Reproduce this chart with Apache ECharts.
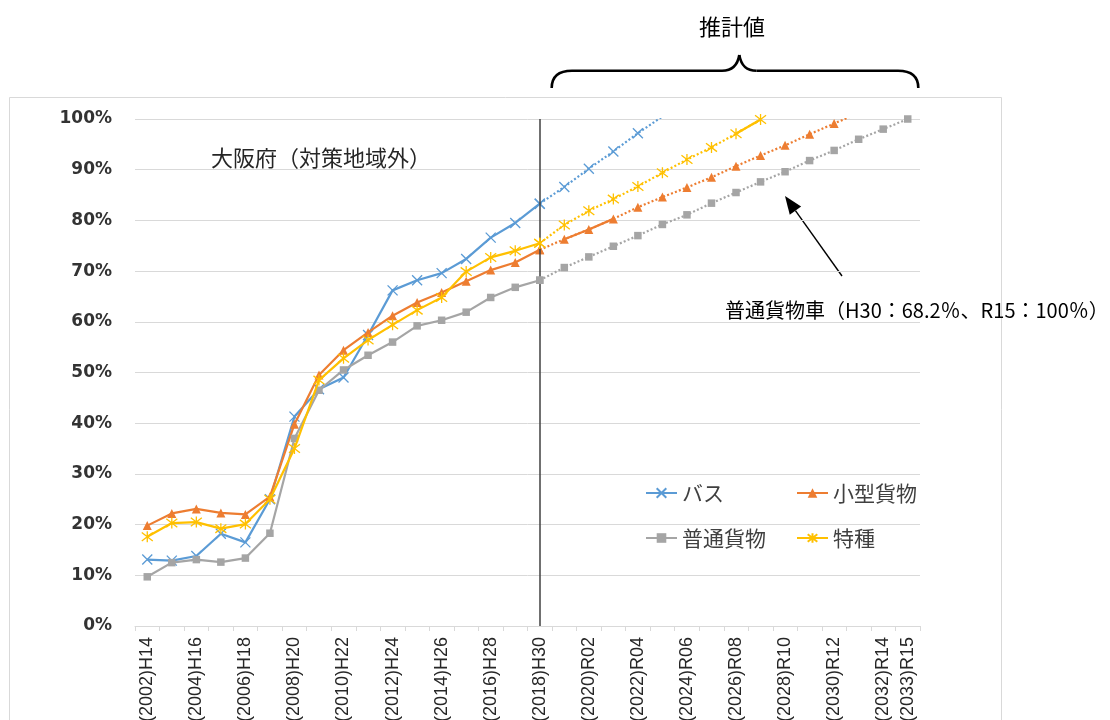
<!DOCTYPE html>
<html>
<head>
<meta charset="utf-8">
<script src="https://cdn.jsdelivr.net/npm/echarts@6/dist/echarts.min.js"></script>
<style>
  html, body { margin: 0; padding: 0; background: #fff; }
  #chart { width: 1110px; height: 720px; }
</style>
</head>
<body>
<div id="chart"></div>
<script>
// Fiscal years (Western year + Japanese era year)
const categories = [
  '(2002)H14', '(2003)H15', '(2004)H16', '(2005)H17', '(2006)H18', '(2007)H19',
  '(2008)H20', '(2009)H21', '(2010)H22', '(2011)H23', '(2012)H24', '(2013)H25',
  '(2014)H26', '(2015)H27', '(2016)H28', '(2017)H29', '(2018)H30', '(2019)R01',
  '(2020)R02', '(2021)R03', '(2022)R04', '(2023)R05', '(2024)R06', '(2025)R07',
  '(2026)R08', '(2027)R09', '(2028)R10', '(2029)R11', '(2030)R12', '(2031)R13',
  '(2032)R14', '(2033)R15'
];
const yTicks = [0, 10, 20, 30, 40, 50, 60, 70, 80, 90, 100];

// Observed compliance rate (%), 2002..2018
const busActual     = [13.1, 12.9, 13.8, 18.2, 16.5, 25.0, 41.3, 46.7, 49.0, 57.4, 66.2, 68.2, 69.6, 72.4, 76.6, 79.5, 83.3];
const smallActual   = [19.8, 22.2, 23.1, 22.3, 22.0, 25.5, 39.8, 49.5, 54.4, 57.9, 61.2, 63.8, 65.8, 68.0, 70.2, 71.7, 74.2];
const normalActual  = [9.7, 12.5, 13.1, 12.6, 13.4, 18.3, 37.0, 46.5, 50.5, 53.4, 56.0, 59.2, 60.3, 61.9, 64.8, 66.8, 68.2];
const specialActual = [17.6, 20.3, 20.5, 19.2, 20.1, 25.0, 35.0, 48.5, 52.8, 56.4, 59.4, 62.3, 64.8, 69.9, 72.7, 74.0, 75.5];

// Estimated rate (%), starting at 2018
const forecastStart = 16;
const busForecast     = [83.3, 86.6, 90.2, 93.6, 97.2, 100.5];
const smallForecast   = [74.2, 76.3, 78.2, 80.3, 82.6, 84.6, 86.5, 88.5, 90.7, 92.8, 94.8, 97.0, 99.1, 101.2];
const normalForecast  = [68.2, 70.7, 72.8, 74.9, 77.0, 79.2, 81.1, 83.4, 85.5, 87.6, 89.6, 91.8, 93.8, 96.0, 98.0, 100.0];
const specialForecast = [75.5, 79.1, 81.9, 84.2, 86.7, 89.4, 92.0, 94.4, 97.1, 99.9];

// Forecast stretches drawn with a solid stroke (first/last forecast index)
const smallSolidSpan   = [1, 3];
const specialSolidSpan = [8, 9];

const names  = ['バス', '小型貨物', '普通貨物', '特種'];
const colors = ['#5B9BD5', '#ED7D31', '#A5A5A5', '#FFC000'];

const SYM_X    = 'path://M0,0L10,10M0,10L10,0';
const SYM_STAR = 'path://M0,0L10,10M0,10L10,0M5,-1.5L5,11.5';

const markers = [
  { symbol: SYM_X, symbolSize: 10, itemStyle: { color: colors[0], borderColor: colors[0], borderWidth: 1.3 } },
  { symbol: 'triangle', symbolSize: 9, itemStyle: { color: colors[1], borderWidth: 0 } },
  { symbol: 'rect', symbolSize: 7.5, itemStyle: { color: colors[2], borderWidth: 0 } },
  { symbol: SYM_STAR, symbolSize: 11, itemStyle: { color: colors[3], borderColor: colors[3], borderWidth: 1.3 } }
];

const actuals   = [busActual, smallActual, normalActual, specialActual];
const forecasts = [busForecast, smallForecast, normalForecast, specialForecast];

function forecastPairs(arr, from, to) {
  const out = [];
  for (let k = from; k <= to; k++) out.push([forecastStart + k, arr[k]]);
  return out;
}

const series = [];
names.forEach((name, i) => {
  series.push(Object.assign({
    name, type: 'line', data: actuals[i],
    lineStyle: { color: colors[i], width: 2.2 },
    z: 3 + i
  }, markers[i]));
});
names.forEach((name, i) => {
  const s = Object.assign({
    name, type: 'line',
    data: forecastPairs(forecasts[i], 0, forecasts[i].length - 1),
    lineStyle: { color: colors[i], width: 2.2, type: [2, 2.2] },
    clip: true,
    z: 3 + i
  }, markers[i]);
  if (i === 0) {
    s.markLine = {
      silent: true,
      symbol: ['none', 'none'],
      label: { show: false },
      lineStyle: { color: '#404040', width: 1.5, type: 'solid' },
      data: [{ xAxis: categories[forecastStart] }]
    };
  }
  series.push(s);
});
// solid stretches inside the forecast
series.push({
  name: '小型貨物', type: 'line', symbol: 'none', z: 4,
  data: forecastPairs(smallForecast, smallSolidSpan[0], smallSolidSpan[1]),
  lineStyle: { color: colors[1], width: 2.2 }
});
series.push({
  name: '特種', type: 'line', symbol: 'none', z: 6,
  data: forecastPairs(specialForecast, specialSolidSpan[0], specialSolidSpan[1]),
  lineStyle: { color: colors[3], width: 2.2 }
});

// Arrow pointing at the 普通貨物 forecast
const arrowTail = [842, 276];
const arrowTip  = [785, 196];
const dx = arrowTail[0] - arrowTip[0], dy = arrowTail[1] - arrowTip[1];
const len = Math.hypot(dx, dy), ux = dx / len, uy = dy / len;
const headLen = 18, headHalf = 7;
const base = [arrowTip[0] + ux * headLen, arrowTip[1] + uy * headLen];
const headPts = [
  arrowTip,
  [base[0] - uy * headHalf, base[1] + ux * headHalf],
  [base[0] + uy * headHalf, base[1] - ux * headHalf]
];

// Curly brace above the forecast years
const braceStyle = { fill: 'none', stroke: '#000', lineWidth: 2.6 };
const braceParts = [
  { type: 'bezierCurve', shape: { x1: 551.7, y1: 88, cpx1: 551.7, cpy1: 77, cpx2: 558, cpy2: 70.7, x2: 572, y2: 70.7 } },
  { type: 'line', shape: { x1: 572, y1: 70.7, x2: 722, y2: 70.7 } },
  { type: 'bezierCurve', shape: { x1: 722, y1: 70.7, cpx1: 732, cpy1: 70.7, cpx2: 737.5, cpy2: 66, x2: 739.3, y2: 55 } },
  { type: 'bezierCurve', shape: { x1: 739.3, y1: 55, cpx1: 741.2, cpy1: 66, cpx2: 746.5, cpy2: 70.7, x2: 756.5, y2: 70.7 } },
  { type: 'line', shape: { x1: 756.5, y1: 70.7, x2: 898, y2: 70.7 } },
  { type: 'bezierCurve', shape: { x1: 898, y1: 70.7, cpx1: 912, cpy1: 70.7, cpx2: 918.3, cpy2: 77, x2: 918.3, y2: 88 } }
].map(p => Object.assign(p, { silent: true, style: braceStyle }));

const legendText = { color: '#404040', fontSize: 21, fontFamily: 'Noto Sans CJK JP', lineHeight: 22 };
const legendCommon = {
  orient: 'vertical', top: 477, itemWidth: 31, itemHeight: 12, itemGap: 23,
  selectedMode: false, textStyle: legendText
};

const chart = echarts.init(document.getElementById('chart'));
chart.setOption({
  animation: false,
  backgroundColor: '#fff',
  grid: { left: 135, right: 190, top: 119, bottom: 94, containLabel: false, outerBoundsMode: 'none' },
  legend: [
    Object.assign({ left: 640, data: [names[0], names[2]] }, legendCommon),
    Object.assign({ left: 791, data: [names[1], names[3]] }, legendCommon)
  ],
  xAxis: {
    type: 'category',
    data: categories,
    boundaryGap: true,
    axisLine: { lineStyle: { color: '#d9d9d9', width: 1 } },
    axisTick: { show: true, interval: 0, length: 5, lineStyle: { color: '#d9d9d9' } },
    axisLabel: {
      rotate: 90,
      margin: 11,
      interval: (i) => i % 2 === 0 || i === categories.length - 1,
      color: '#262626',
      fontSize: 18,
      fontFamily: 'Liberation Sans'
    }
  },
  yAxis: {
    type: 'value',
    min: yTicks[0],
    max: yTicks[yTicks.length - 1],
    interval: yTicks[1] - yTicks[0],
    axisLine: { show: false },
    axisTick: { show: false },
    axisLabel: {
      formatter: '{value}%',
      margin: 23,
      color: '#333333',
      fontSize: 17,
      fontWeight: 'bold',
      fontFamily: 'DejaVu Sans'
    },
    splitLine: { lineStyle: { color: '#d9d9d9', width: 1 } }
  },
  series,
  graphic: [
    { type: 'rect', silent: true, z: -1,
      shape: { x: 9.5, y: 97.5, width: 992, height: 700 },
      style: { fill: 'none', stroke: '#d9d9d9', lineWidth: 1 } },
    { type: 'text', silent: true, x: 732, y: 27,
      style: { text: '推計値', fill: '#000', fontSize: 22, fontFamily: 'Noto Sans CJK JP',
               textAlign: 'center', textVerticalAlign: 'middle' } },
    ...braceParts,
    { type: 'text', silent: true, x: 211, y: 158,
      style: { text: '大阪府（対策地域外）', fill: '#262626', fontSize: 22, fontFamily: 'Noto Sans CJK JP',
               textVerticalAlign: 'middle' } },
    { type: 'text', silent: true, x: 725, y: 310,
      style: { text: '普通貨物車（H30：68.2％、R15：100％）', fill: '#000', fontSize: 20, fontFamily: 'Noto Sans CJK JP',
               textVerticalAlign: 'middle' } },
    { type: 'line', silent: true,
      shape: { x1: arrowTail[0], y1: arrowTail[1], x2: base[0], y2: base[1] },
      style: { stroke: '#000', lineWidth: 1.4 } },
    { type: 'polygon', silent: true,
      shape: { points: headPts },
      style: { fill: '#000' } }
  ]
});
</script>
</body>
</html>
